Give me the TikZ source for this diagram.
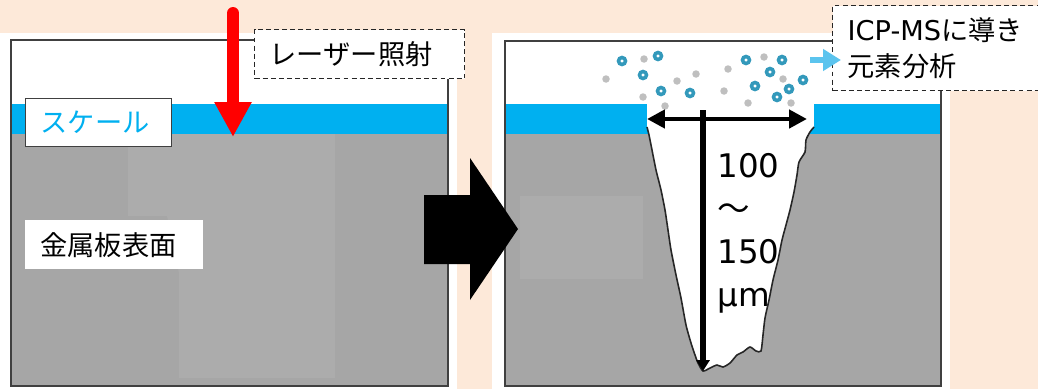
\documentclass[tikz,border=0pt]{standalone}
\usepackage{fontspec}
\setmainfont{Noto Sans CJK JP}
\newfontfamily\latinfont{DejaVu Sans}
\usetikzlibrary{positioning,arrows.meta}
\definecolor{peach}{HTML}{FDE9D9}
\definecolor{scaleblue}{HTML}{00B0F0}
\definecolor{metalgray}{HTML}{A6A6A6}
\definecolor{metallight}{HTML}{ACACAC}
\definecolor{ionteal}{HTML}{3399BB}
\definecolor{dustgray}{HTML}{BFBFBF}
\definecolor{flowblue}{HTML}{5BC4EE}
\tikzset{>={Triangle}}

\begin{document}
\begin{tikzpicture}[x=0.02cm,y=-0.02cm,
    panel/.style={draw=black!75,line width=1.2pt},
    labelbox/.style={fill=white,anchor=north west,align=left,inner xsep=0.3cm,inner ysep=0pt,
      font=\fontsize{15.5}{20.4}\selectfont},
    dashbox/.style={labelbox,draw=black!85,line width=0.7pt,dash pattern=on 2.8pt off 1.8pt},
    ion/.style={circle,draw=ionteal,fill=white,line width=2pt,inner sep=0pt,minimum size=0.14cm},
    dust/.style={circle,fill=dustgray,inner sep=0pt,minimum size=0.15cm},
    laser/.style={red,line width=6.8pt,line cap=round,-{Triangle[width=19.8pt,length=19.8pt]}},
    dim/.style={black,line width=2.8pt},
    flow/.style={flowblue,line width=3.4pt,-{Triangle[width=11.9pt,length=10.2pt]}}]
    \clip (0,0) rectangle (1038,389);
    \fill[peach] (0,0) rectangle (1038,389);
    \fill[white] (0,33) rectangle (457,389);
    \fill[white] (492,33) rectangle (950,389);

    \fill[white] (11,40) rectangle (448,104);
    \fill[scaleblue] (11,104) rectangle (448,134);
    \fill[metalgray] (11,134) rectangle (448,386);
    \fill[metallight] (128,134) -- (335,134) -- (335,378) -- (179,378) -- (179,273)
        -- (167,216) -- (128,216) -- cycle;
    \draw[panel] (11,40) rectangle (448,386);

    \fill[white] (505,41) rectangle (941,104);
    \fill[scaleblue] (505,104) rectangle (941,134);
    \fill[metalgray] (505,134) rectangle (941,386);
    \fill[metallight] (520,196) rectangle (643,279);
    \fill[white] (647,104) rectangle (814,128);
    \draw[black!85,line width=0.9pt,fill=white] plot[smooth,tension=0.4] coordinates {
        (647,127) (649,135) (652,150) (656,170) (661,190) (665,210) (668,230) (671,250)
        (676,275) (681,298) (686,325) (691,343) (695,355) (698,363) (703,371)
        (710,368) (717,365) (723,367) (730,363) (737,355) (743,352) (750,347) (756,351)
        (761,351) (763,335) (765,318) (769,300) (773,280) (778,260) (782,240) (786,225)
        (790,210) (794,192) (797,175) (799,162) (805,152) (806,140) (810,132) (814,127)};
    \draw[panel] (505,41) rectangle (941,386);

    \fill (424,195) -- (470,195) -- (470,158) -- (518,229) -- (470,300) -- (470,264)
        -- (424,264) -- cycle;

    \foreach \x/\y [count=\i] in {606/79,644/59,643/97,665/106,677/81,696/74,
        728/69,724/91,748/103,764/57,783/79,791/103}
      \node (dust\i) [dust] at (\x,\y) {};
    \foreach \x/\y [count=\i] in {622/61,658/56,643/75,661/91,690/93,746/60,
        782/60,770/72,755/86,789/89,803/80,777/97}
      \node (ion\i) [ion] at (\x,\y) {};

    \node (scalelabel) [labelbox,draw=black!75,line width=0.8pt,text width=2.32cm,
        minimum height=0.96cm,text=scaleblue] at (25,98) {スケール};
    \node (metallabel) [labelbox,text width=2.96cm,minimum height=0.98cm] at (25,220) {金属板表面};
    \node (laserlabel) [dashbox,text width=3.6cm,minimum height=0.98cm] at (254,29) {レーザー照射};
    \node (icplabel) [dashbox,text width=4.6cm,minimum height=1.7cm] at (832,5)
        {{\latinfont ICP-MS}に導き\\元素分析};
    \node (depth) [anchor=north west,align=left,inner sep=0pt,
        font=\latinfont\fontsize{18.5}{24.4}\selectfont] at (717,153)
        {100\\{\rmfamily 〜}\\150\\µm};

    \coordinate (beam) at (233,13);
    \coordinate (hit) at (233,137);
    \coordinate (rim west) at (647,119);
    \coordinate (rim east) at (807,119);
    \coordinate (pit top) at (703,110);
    \coordinate (pit bottom) at (703,371);
    \coordinate (plume) at (810,60);
    \coordinate (to icp) at (841,60);

    \draw[laser] (beam) -- (hit);
    \draw[dim,{Triangle[width=10.2pt,length=10.2pt]}-{Triangle[width=10.2pt,length=10.2pt]}]
        (rim west) -- (rim east);
    \draw[dim,line width=3.4pt,-{Triangle[width=7.4pt,length=6.2pt]}] (pit top) -- (pit bottom);
    \draw[flow] (plume) -- (to icp);
\end{tikzpicture}
\end{document}
